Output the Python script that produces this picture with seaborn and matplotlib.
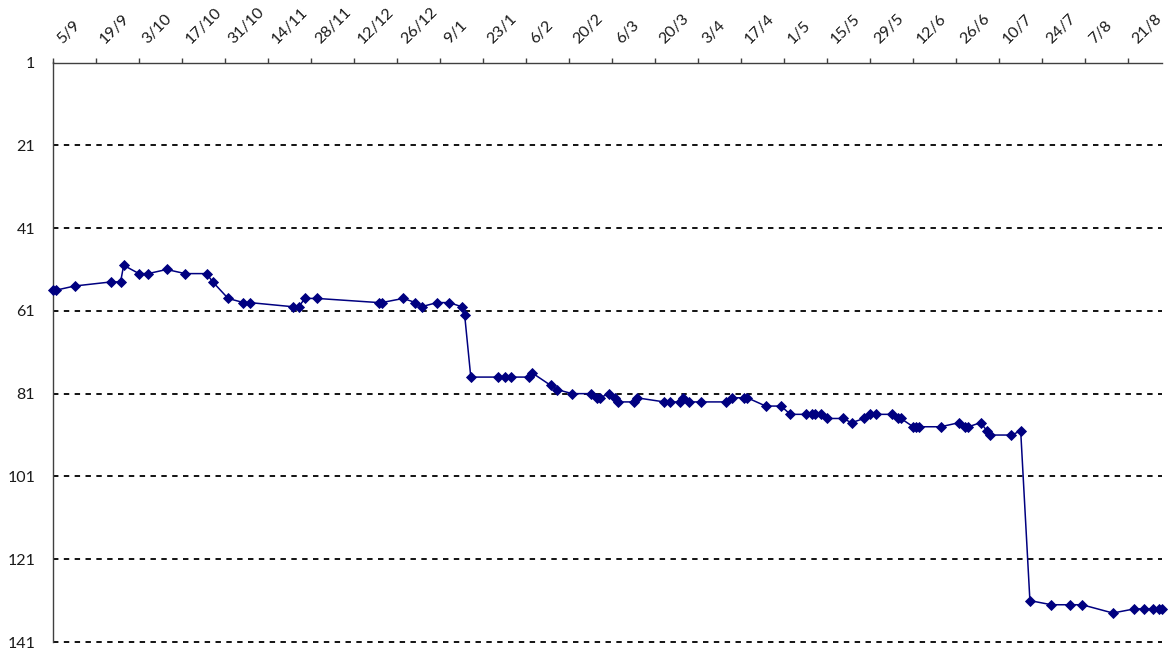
import matplotlib
matplotlib.use("Agg")
import matplotlib.pyplot as plt
from matplotlib.transforms import ScaledTranslation
import pandas as pd
import seaborn as sns

# Weekly chart position over one season
dates = [
    "2008-09-05", "2008-09-06", "2008-09-12", "2008-09-24", "2008-09-27", "2008-09-28",
    "2008-10-03", "2008-10-06", "2008-10-12", "2008-10-18", "2008-10-25", "2008-10-27",
    "2008-11-01", "2008-11-06", "2008-11-08", "2008-11-22", "2008-11-24", "2008-11-26",
    "2008-11-30", "2008-12-20", "2008-12-21", "2008-12-28", "2009-01-01", "2009-01-03",
    "2009-01-08", "2009-01-12", "2009-01-16", "2009-01-17", "2009-01-19", "2009-01-28",
    "2009-01-30", "2009-02-01", "2009-02-07", "2009-02-08", "2009-02-14", "2009-02-16",
    "2009-02-21", "2009-02-27", "2009-03-01", "2009-03-02", "2009-03-05", "2009-03-07",
    "2009-03-08", "2009-03-13", "2009-03-14", "2009-03-23", "2009-03-25", "2009-03-28",
    "2009-03-29", "2009-03-31", "2009-04-04", "2009-04-12", "2009-04-14", "2009-04-18",
    "2009-04-19", "2009-04-25", "2009-04-30", "2009-05-03", "2009-05-08", "2009-05-10",
    "2009-05-11", "2009-05-13", "2009-05-15", "2009-05-20", "2009-05-23", "2009-05-27",
    "2009-05-29", "2009-05-31", "2009-06-05", "2009-06-07", "2009-06-08", "2009-06-12",
    "2009-06-13", "2009-06-14", "2009-06-21", "2009-06-27", "2009-06-29", "2009-06-30",
    "2009-07-04", "2009-07-06", "2009-07-07", "2009-07-14", "2009-07-17", "2009-07-20",
    "2009-07-27", "2009-08-02", "2009-08-06", "2009-08-16", "2009-08-23", "2009-08-26",
    "2009-08-29", "2009-08-31", "2009-09-01",
]
ranks = [
    56, 56, 55, 54, 54, 50,
    52, 52, 51, 52, 52, 54,
    58, 59, 59, 60, 60, 58,
    58, 59, 59, 58, 59, 60,
    59, 59, 60, 62, 77, 77,
    77, 77, 77, 76, 79, 80,
    81, 81, 82, 82, 81, 82,
    83, 83, 82, 83, 83, 83,
    82, 83, 83, 83, 82, 82,
    82, 84, 84, 86, 86, 86,
    86, 86, 87, 87, 88, 87,
    86, 86, 86, 87, 87, 89,
    89, 89, 89, 88, 89, 89,
    88, 90, 91, 91, 90, 131,
    132, 132, 132, 134, 133, 133,
    133, 133, 133,
]

tick_dates = pd.date_range("2008-09-05", "2009-08-21", freq="14D")
tick_labels = [f"{d.day}/{d.month}" for d in tick_dates]
rank_ticks = list(range(1, 142, 20))

sns.set_style("white")
plt.rcParams["font.family"] = ["Lato", "DejaVu Sans"]

W, H = 1172, 653
fig = plt.figure(figsize=(W / 100, H / 100), dpi=100)
ax = fig.add_axes([53 / W, (H - 642) / H, 1109 / W, 579.5 / H])

df = pd.DataFrame({"date": pd.to_datetime(dates), "rank": ranks})
sns.lineplot(
    data=df, x="date", y="rank", ax=ax, estimator=None, sort=False,
    color="#000080", linewidth=1.1, marker="D", markersize=5.0,
    markeredgewidth=0.6, markeredgecolor="#000080",
)
for ln in ax.lines:
    ln.set_clip_on(False)
    ln.set_zorder(5)

ax.set_xlim(pd.Timestamp("2008-09-05"), pd.Timestamp("2009-09-01"))
ax.set_ylim(141, 1)

axis_color = "#404040"
text_color = "#1a1a1a"

ax.xaxis.tick_top()
ax.set_xticks(tick_dates, tick_labels, rotation=45, ha="left", va="baseline",
              rotation_mode="anchor")
ax.set_yticks(rank_ticks, [str(v) for v in rank_ticks])
ax.tick_params(axis="x", which="major", direction="out", length=3.8, width=1.0,
               color=axis_color, labelsize=11.5, labelcolor=text_color, pad=9.5)
ax.tick_params(axis="y", which="major", direction="out", length=4.3, width=1.0,
               color=axis_color, labelsize=11.5, labelcolor=text_color, pad=8.5)

# nudge the slanted date labels to the right of their tick marks
shift = ScaledTranslation(9 / 100, 0, fig.dpi_scale_trans)
for tick in ax.xaxis.get_major_ticks():
    tick.label2.set_transform(tick.label2.get_transform() + shift)

for side in ("bottom", "right"):
    ax.spines[side].set_visible(False)
for side in ("top", "left"):
    ax.spines[side].set_color(axis_color)
    ax.spines[side].set_linewidth(1.0)
    ax.spines[side].set_zorder(4)

ax.set_xlabel("")
ax.set_ylabel("")
ax.grid(False)
ax.yaxis.grid(True, color="black", linestyle=(0, (3, 3)), linewidth=1.3)
ax.xaxis.grid(False)
gls = ax.get_ygridlines()
gls[0].set_visible(False)
for gl in gls:
    gl.set_clip_on(False)

fig.savefig("out.png", dpi=100, facecolor="white")
